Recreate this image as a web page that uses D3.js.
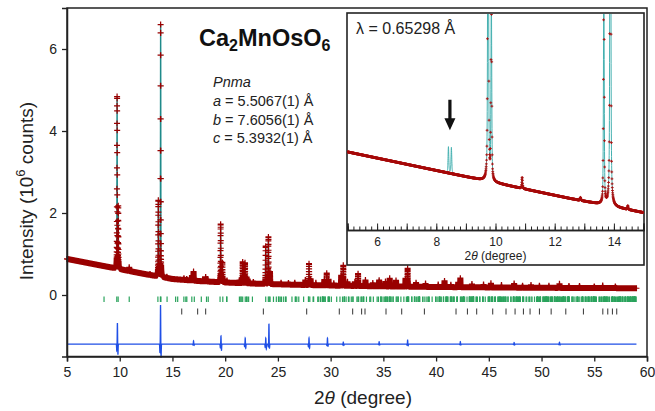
<!DOCTYPE html>
<html>
<head>
<meta charset="utf-8">
<script src="https://cdn.jsdelivr.net/npm/d3@7/dist/d3.min.js"></script>
<style>
  html, body { margin: 0; padding: 0; background: #fff; }
  svg { display: block; font-family: "Liberation Sans", Arial, Helvetica, sans-serif; }
</style>
</head>
<body>
<svg id="chart" width="655" height="411"></svg>
<script>
// ---------------- data ----------------
const xTickValues = [5, 10, 15, 20, 25, 30, 35, 40, 45, 50, 55, 60];
const yTickValues = [0, 2, 4, 6];
const insetLabelValues = [6, 8, 10, 12, 14];

// Pnma cell (Å) and synchrotron wavelength (Å)
const cellAxes = ["a", "b", "c"];
const lattice = [5.5067, 7.6056, 5.3932];
const wavelength = 0.65298;

// background level (10^6 counts) against 2θ
const backgroundKnots = [
  [5, 0.88], [7.5, 0.755], [10, 0.63], [12.5, 0.505], [15, 0.39], [17.5, 0.34],
  [20, 0.305], [22.5, 0.28], [25, 0.26], [30, 0.23], [35, 0.21], [40, 0.195],
  [45, 0.185], [50, 0.175], [55, 0.17], [59, 0.165]
];

// observed / fitted reflections: [2θ, net height (10^6 counts)]
const peaks = [
  [9.75, 4.2], [9.86, 1.5], [10.90, 0.09], [12.87, 0.025], [13.66, 1.85], [13.88, 6.15], [14.47, 0.03],
  [16.09, 0.04], [16.35, 0.03], [16.85, 0.12], [17.0, 0.22], [17.23, 0.04], [17.87, 0.05], [18.15, 0.11], [18.3, 0.06],
  [19.57, 1.42], [19.73, 0.48], [19.89, 0.08], [20.17, 0.05],
  [21.34, 0.07], [21.66, 0.52], [21.88, 0.5], [22.03, 0.15], [22.35, 0.05], [22.67, 0.04],
  [23.62, 0.04], [23.84, 0.92], [24.1, 1.15], [24.25, 0.3],
  [25.3, 0.04], [26.0, 0.04], [26.6, 0.05],
  [27.6, 0.12], [27.95, 0.52], [28.1, 0.15], [28.6, 0.06],
  [29.4, 0.14], [29.63, 0.3], [29.8, 0.15], [30.3, 0.06],
  [31.0, 0.25], [31.2, 0.5], [31.6, 0.1], [32.3, 0.1], [32.6, 0.3], [33.3, 0.15], [34.0, 0.08],
  [34.6, 0.15], [35.2, 0.12], [35.6, 0.2], [36.2, 0.15], [37.1, 0.2], [37.3, 0.45], [38.1, 0.1],
  [39.0, 0.08], [40.2, 0.06], [40.8, 0.15], [41.4, 0.06], [42.1, 0.12], [42.3, 0.22], [43.4, 0.08],
  [44.5, 0.07], [45.2, 0.1], [46.2, 0.06], [47.4, 0.1], [48.2, 0.05], [49.0, 0.07], [49.8, 0.05],
  [50.7, 0.05], [51.7, 0.1], [52.6, 0.05], [53.6, 0.05], [55.0, 0.04], [55.8, 0.06], [57.0, 0.04]
];

// reflections present in the calculated profile only (marked by the arrow)
const calcOnlyPeaks = [[8.41, 0.21], [8.51, 0.21]];
const arrowAt = [8.46, 1.30, 1.055];   // 2θ, tail, tip (10^6 counts)

// difference curve: [2θ, positive lobe, negative lobe]
const diffBaseline = -1.2;
const diffFeatures = [
  [9.78, 0.52, 0.26], [13.87, 0.96, 0.34], [17.0, 0.08, 0.03], [19.6, 0.2, 0.15],
  [21.9, 0.15, 0.1], [23.85, 0.15, 0.12], [24.15, 0.5, 0.1], [27.95, 0.15, 0.1],
  [29.7, 0.15, 0.05], [31.2, 0.05, 0.03], [34.6, 0.06, 0.02], [37.3, 0.1, 0.04],
  [42.3, 0.06, 0.02], [47.4, 0.04, 0.02], [51.7, 0.05, 0.02]
];

// second-phase reflection positions (2θ)
const secondPhaseTicks = [
  15.88, 17.39, 18.15, 23.62, 27.73, 30.82, 32.09, 32.94, 33.26, 35.25, 36.74, 38.89,
  41.89, 42.97, 43.85, 45.37, 46.63, 47.49, 48.28, 48.91, 49.8, 50.91, 52.3, 53.97,
  55.81, 56.28, 56.72, 57.13
];

// ---------------- helpers ----------------
const svg = d3.select("#chart");
const x = d3.scaleLinear().domain([5, 60]).range([67, 647]);
const y = d3.scaleLinear().domain([-1.5, 7]).range([356.5, 8]);

const bg = d3.scaleLinear()
  .domain(backgroundKnots.map(d => d[0]))
  .range(backgroundKnots.map(d => d[1]))
  .clamp(true);

const HW = 0.015, ETA = 0.5;
function profile(dx) {
  const u = (dx / HW) * (dx / HW);
  return ETA / (1 + u) + (1 - ETA) * Math.exp(-Math.LN2 * u);
}
function intensity(t, list) {
  let s = bg(t);
  for (const [p, h] of list) {
    const dx = t - p;
    if (Math.abs(dx) < 2) s += h * profile(dx);
  }
  return s;
}
function difference(t) {
  let s = diffBaseline;
  const g = (dx) => Math.exp(-0.5 * (dx / 0.016) * (dx / 0.016));
  for (const [p, up, dn] of diffFeatures) {
    const dx = t - p;
    if (Math.abs(dx) < 0.3) s += up * g(dx) - dn * g(dx - 0.05) - 0.6 * dn * g(dx + 0.06);
  }
  return s;
}
function crosses(pts, r) {
  let s = "";
  for (const [px, py] of pts) {
    s += `M${(px - r).toFixed(2)},${py.toFixed(2)}h${2 * r}M${px.toFixed(2)},${(py - r).toFixed(2)}v${2 * r}`;
  }
  return s;
}

// Bragg positions of Pnma from the cell above
const [A, B, C] = lattice;
const braggTicks = [];
for (let h = 0; h <= 10; h++) for (let k = 0; k <= 13; k++) for (let l = 0; l <= 10; l++) {
  if (h === 0 && k === 0 && l === 0) continue;
  if (h === 0 && (k + l) % 2 !== 0) continue;   // 0kl: k+l = 2n
  if (l === 0 && h % 2 !== 0) continue;         // hk0: h = 2n
  const d = 1 / Math.sqrt(h * h / (A * A) + k * k / (B * B) + l * l / (C * C));
  const s = wavelength / (2 * d);
  if (s >= 1) continue;
  const tt = 2 * Math.asin(s) * 180 / Math.PI;
  if (tt >= 5 && tt <= 59) braggTicks.push(tt);
}

// sampling grids in 2θ
const step = 0.003;
const grid = d3.range(5, 59.0001, step);
const calcGrid = grid.concat(peaks.map(d => d[0])).sort((a, b) => a - b);

// ---------------- main panel ----------------
const plotLeft = 67, plotRight = 647, plotTop = 8, plotBottom = 356.5;

// calculated profile
svg.append("path")
  .attr("d", d3.line().x(t => x(t)).y(t => y(intensity(t, peaks)))(calcGrid))
  .attr("fill", "none").attr("stroke", "#1f8a8a").attr("stroke-width", 1.4);

// observed points
svg.append("path")
  .attr("d", crosses(grid.map(t => [x(t), y(intensity(t, peaks))]), 3))
  .attr("fill", "none").attr("stroke", "#990000").attr("stroke-width", 1.2);

// Bragg reflection markers
svg.append("g").selectAll("line").data(braggTicks).join("line")
  .attr("x1", d => x(d)).attr("x2", d => x(d))
  .attr("y1", 296.5).attr("y2", 302)
  .attr("stroke", "#2aa35c").attr("stroke-width", 1.2);

svg.append("g").selectAll("line").data(secondPhaseTicks).join("line")
  .attr("x1", d => x(d)).attr("x2", d => x(d))
  .attr("y1", 308.5).attr("y2", 314.5)
  .attr("stroke", "#333").attr("stroke-width", 1);

// difference curve
svg.append("path")
  .attr("d", d3.line().x(t => x(t)).y(t => y(difference(t)))(grid))
  .attr("fill", "none").attr("stroke", "#1f4fe6").attr("stroke-width", 1.3);

// frame + axes
svg.append("rect")
  .attr("x", plotLeft).attr("y", plotTop)
  .attr("width", plotRight - plotLeft).attr("height", plotBottom - plotTop)
  .attr("fill", "none").attr("stroke", "#222").attr("stroke-width", 1.5);

const xAxis = svg.append("g").attr("transform", `translate(0,${plotBottom})`)
  .call(d3.axisBottom(x).tickValues(xTickValues).tickSize(5).tickPadding(6).tickFormat(d3.format("d")));
const yAxis = svg.append("g").attr("transform", `translate(${plotLeft},0)`)
  .call(d3.axisLeft(y).tickValues(yTickValues).tickSize(5).tickPadding(5).tickFormat(d3.format("d")));
[xAxis, yAxis].forEach(g => {
  g.select(".domain").attr("stroke", "#222").attr("stroke-width", 1.5);
  g.selectAll(".tick line").attr("stroke", "#222").attr("stroke-width", 1.3);
  g.selectAll(".tick text").attr("fill", "#222").style("font-size", "14px")
    .style("font-family", "'Liberation Sans', Arial, sans-serif");
});

// axis titles
const xTitle = svg.append("text").attr("x", 363).attr("y", 404)
  .attr("text-anchor", "middle").attr("fill", "#222").style("font-size", "19px");
xTitle.append("tspan").text("2");
xTitle.append("tspan").attr("font-style", "italic").text("θ");
xTitle.append("tspan").text(" (degree)");

const yTitle = svg.append("text")
  .attr("transform", "translate(33,191) rotate(-90)")
  .attr("text-anchor", "middle").attr("fill", "#222").style("font-size", "19px");
yTitle.append("tspan").text("Intensity (10");
yTitle.append("tspan").attr("dy", -8).style("font-size", "13px").text("6");
yTitle.append("tspan").attr("dy", 8).text(" counts)");

// compound, space group and cell
const title = svg.append("text").attr("x", 199).attr("y", 46)
  .attr("fill", "#111").style("font-size", "23.5px").style("font-weight", "bold");
title.append("tspan").text("Ca");
title.append("tspan").attr("dy", 5).style("font-size", "16px").text("2");
title.append("tspan").attr("dy", -5).text("MnOsO");
title.append("tspan").attr("dy", 5).style("font-size", "16px").text("6");

svg.append("text").attr("x", 213).attr("y", 87).attr("fill", "#222")
  .style("font-size", "14.5px").style("font-style", "italic").text("Pnma");
cellAxes.forEach((ax, i) => {
  const t = svg.append("text").attr("x", 213).attr("y", 106 + i * 18.7)
    .attr("fill", "#222").style("font-size", "14.5px");
  t.append("tspan").attr("font-style", "italic").text(ax);
  t.append("tspan").text(` = ${lattice[i].toFixed(4)}(1) Å`);
});

// ---------------- inset ----------------
const inL = 347.5, inR = 643.5, inTop = 13, inAxis = 230, inBottom = 265;
const xi = d3.scaleLinear().domain([5, 15]).range([inL, inR]);
const yi = d3.scaleLinear().domain([0.25, 2.0]).range([inAxis, inTop]);

svg.append("rect")
  .attr("x", inL - 0.5).attr("y", inTop).attr("width", inR - inL + 1).attr("height", inBottom - inTop)
  .attr("fill", "#fff").attr("stroke", "#222").attr("stroke-width", 1.6);

svg.append("clipPath").attr("id", "insetClip")
  .append("rect").attr("x", inL).attr("y", inTop + 1).attr("width", inR - inL).attr("height", inAxis - inTop - 1);

const inset = svg.append("g").attr("clip-path", "url(#insetClip)");
const insetStep = 0.006;
const insetGrid = d3.range(5, 15.0001, insetStep);
const insetCalcPeaks = peaks.concat(calcOnlyPeaks);
const insetCalcGrid = d3.range(5, 15.0001, 0.002).concat(insetCalcPeaks.map(d => d[0])).sort((a, b) => a - b);

inset.append("path")
  .attr("d", d3.line().x(t => xi(t)).y(t => yi(intensity(t, insetCalcPeaks)))(insetCalcGrid))
  .attr("fill", "none").attr("stroke", "#45b0b0").attr("stroke-width", 1);

// observed points in the inset
inset.append("path")
  .attr("d", crosses(insetGrid.map(t => [xi(t), yi(intensity(t, peaks))]), 1.4))
  .attr("fill", "none").attr("stroke", "#a80c0c").attr("stroke-width", 0.9);

// arrow
const ax0 = xi(arrowAt[0]), tailY = yi(arrowAt[1]), tipY = yi(arrowAt[2]);
svg.append("path")
  .attr("d", `M${ax0 - 1.6},${tailY}H${ax0 + 1.6}V${tipY - 12}H${ax0 + 5.5}L${ax0},${tipY}L${ax0 - 5.5},${tipY - 12}H${ax0 - 1.6}Z`)
  .attr("fill", "#111");

// inset axis with minor and major ticks pointing inward
const minorAxis = svg.append("g").attr("transform", `translate(0,${inAxis})`)
  .call(d3.axisBottom(xi).tickValues(d3.range(5, 15.001, 0.2)).tickSize(-3.5).tickFormat(""));
const majorAxis = svg.append("g").attr("transform", `translate(0,${inAxis})`)
  .call(d3.axisBottom(xi).tickValues(d3.range(5, 15.001, 1)).tickSize(-6.5).tickPadding(7)
    .tickFormat(d => insetLabelValues.includes(Math.round(d)) ? String(Math.round(d)) : ""));
[minorAxis, majorAxis].forEach(g => {
  g.select(".domain").attr("stroke", "#222").attr("stroke-width", 1.4);
  g.selectAll(".tick line").attr("stroke", "#222").attr("stroke-width", 1);
  g.selectAll(".tick text").attr("fill", "#222").style("font-size", "12px")
    .style("font-family", "'Liberation Sans', Arial, sans-serif");
});

const inTitle = svg.append("text").attr("x", xi(10)).attr("y", 260)
  .attr("text-anchor", "middle").attr("fill", "#222").style("font-size", "12px");
inTitle.append("tspan").text("2");
inTitle.append("tspan").attr("font-style", "italic").text("θ");
inTitle.append("tspan").text(" (degree)");

svg.append("text").attr("x", 356).attr("y", 34).attr("fill", "#222")
  .style("font-size", "16px").text(`λ = ${wavelength} Å`);
</script>
</body>
</html>
